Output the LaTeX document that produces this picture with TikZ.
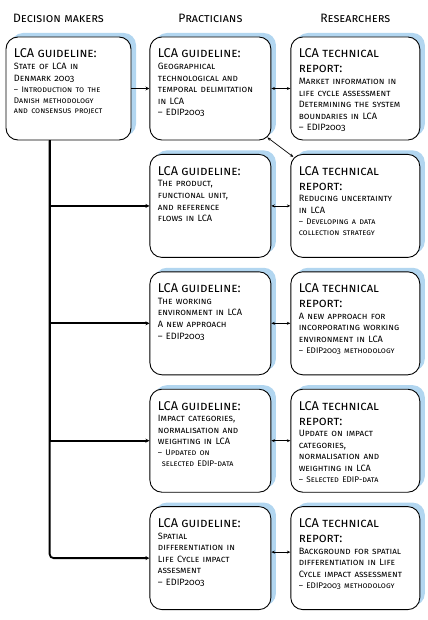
\documentclass[tikz,border=0pt]{standalone}
\usepackage{fontspec}
\setmainfont{Fira Sans}[Letters=SmallCaps, Numbers=OldStyle]
\usetikzlibrary{arrows.meta, positioning, calc, shadows}
\definecolor{shadowblue}{RGB}{178,214,240}
\newcommand{\ttl}{\fontsize{12.8}{15}\selectfont}
\newcommand{\bdy}{\fontsize{9.2}{11.6}\selectfont}
\newcommand{\sbt}{\fontsize{8.2}{11}\selectfont}

\begin{document}
\begin{tikzpicture}[x=1bp, y=-1bp,
    block/.style={draw, line width=0.9bp, rounded corners=12bp, fill=white,
        general shadow={shadow xshift=5bp, shadow yshift=4bp, fill=shadowblue},
        text width=#1, align=left, inner xsep=8bp, inner ysep=4bp,
        text height=17bp, text depth=78bp,
        execute at begin node={\rightskip=-14bp plus 3em}},
    head/.style={inner sep=0pt, font=\fontsize{12.2}{14}\selectfont},
    thickarrow/.style={-{Stealth[length=4bp,width=4bp]}, line width=1.8bp},
    thinarrow/.style={{Stealth[length=3.5bp,width=3bp]}-{Stealth[length=3.5bp,width=3bp]}, line width=0.7bp},
    node distance=13.5bp
]
    \useasboundingbox (0,0) rectangle (427,620);

    % Decision makers
    \node[block=109bp] (dm) at (68.5,88.5) {{\ttl LCA guideline:\par}
        {\bdy State of LCA in\\ Denmark 2003\par}
        {\sbt -- Introduction to the\\ Danish methodology\\ and consensus project\par}};

    % Practicians
    \node[block=105bp, right=18bp of dm] (p1) {{\ttl LCA guideline:\par}
        {\bdy Geographical\\ technological and\\ temporal delimitation\\ in LCA\\ -- EDIP2003\par}};
    \node[block=105bp, below=of p1] (p2) {{\ttl LCA guideline:\par}
        {\bdy The product,\\ functional unit,\\ and reference\\ flows in LCA\par}};
    \node[block=105bp, below=of p2] (p3) {{\ttl LCA guideline:\par}
        {\bdy The working\\ environment in LCA\\ A new approach\\ -- EDIP2003\par}};
    \node[block=105bp, below=of p3] (p4) {{\ttl LCA guideline:\par}
        {\bdy Impact categories,\\ normalisation and\\ weighting in LCA\par}
        {\sbt -- Updated on\\ \hspace*{4bp}selected EDIP-data\par}};
    \node[block=105bp, below=of p4] (p5) {{\ttl LCA guideline:\par}
        {\bdy Spatial\\ differentiation in\\ Life Cycle impact\\ assesment\\ -- EDIP2003\par}};

    % Researchers
    \node[block=113bp, right=19bp of p1] (r1) {{\ttl LCA technical\\ report:\par}
        {\bdy Market information in\\ life cycle assessment\\ Determining the system\\ boundaries in LCA\\ -- EDIP2003\par}};
    \node[block=113bp, right=19bp of p2] (r2) {{\ttl LCA technical\\ report:\par}
        {\bdy Reducing uncertainty\\ in LCA\par}
        {\sbt -- Developing a data\\ collection strategy\par}};
    \node[block=113bp, right=19bp of p3] (r3) {{\ttl LCA technical\\ report:\par}
        {\bdy A new approach for\\ incorporating working\\ environment in LCA\par}
        {\sbt -- EDIP2003 methodology\par}};
    \node[block=113bp, right=19bp of p4] (r4) {{\ttl LCA technical\\ report:\par}
        {\bdy Update on impact\\ categories,\\ normalisation and\\ weighting in LCA\par}
        {\sbt -- Selected EDIP-data\par}};
    \node[block=113bp, right=19bp of p5] (r5) {{\ttl LCA technical\\ report:\par}
        {\bdy Background for spatial\\ differentiation in Life\\ Cycle impact assessment\par}
        {\sbt -- EDIP2003 methodology\par}};

    % Headers
    \node[head, above=14bp of dm, xshift=-10bp] (hdm) {Decision makers};
    \node[head, above=14bp of p1] (hpr) {Practicians};
    \node[head, above=14bp of r1] (hre) {Researchers};

    % Arrows
    \coordinate (trunk) at ($(dm.south west)!0.35!(dm.south east)$);
    \draw[thickarrow] (dm) -- (p1);
    \draw[thickarrow] (trunk) |- (p2);
    \draw[thickarrow] (trunk) |- (p3);
    \draw[thickarrow] (trunk) |- (p4);
    \draw[thickarrow, rounded corners=4bp] (trunk) |- (p5);

    \draw[thinarrow] (p1) -- (r1);
    \draw[thinarrow] (p2) -- (r2);
    \draw[thinarrow] (p3) -- (r3);
    \draw[thinarrow] (p4) -- (r4);
    \draw[thinarrow] ([yshift=6bp]p5.east) -- ([yshift=6bp]r5.west);
    \draw[thinarrow] ([xshift=-4bp,yshift=3bp]p1.south east) -- ([xshift=3bp,yshift=-3bp]r2.north west);
\end{tikzpicture}
\end{document}
